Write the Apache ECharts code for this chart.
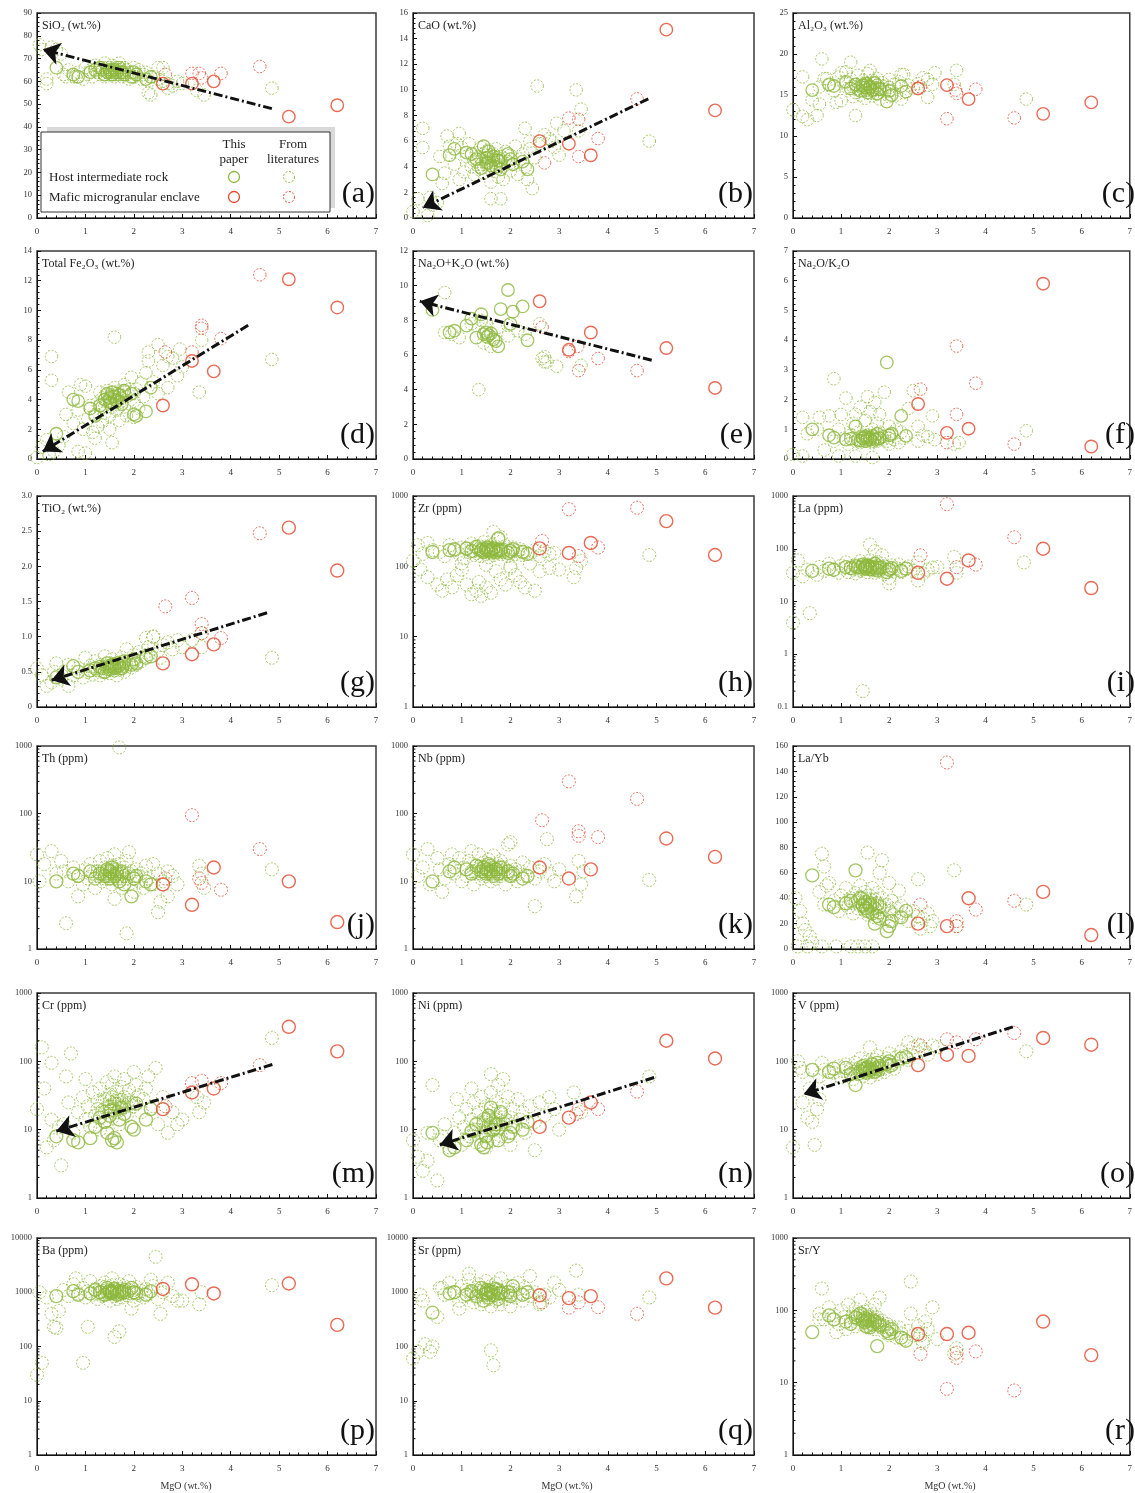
<!DOCTYPE html>
<html>
<head>
<meta charset="utf-8">
<script src="https://cdn.jsdelivr.net/npm/echarts@6/dist/echarts.min.js"></script>
<style>
  html, body { margin: 0; padding: 0; background: #fff; }
  #chart { width: 1135px; height: 1493px; }
</style>
</head>
<body>
<div id="chart"></div>
<script>
// ---------- MgO (wt.%) of the sample groups ----------
const mgoHostThis = [0.4,0.75,0.85,1.1,1.2,1.3,1.4,1.45,1.5,1.52,1.55,1.6,1.65,1.7,1.75,1.8,1.95,2.0,2.05,2.25,2.35];
const mgoLitCore = [0.55,0.65,0.75,0.85,0.95,1.0,1.05,1.1,1.15,1.2,1.25,1.3,
                    1.3,1.35,1.4,1.4,1.45,1.5,1.5,1.55,1.55,1.6,1.6,1.65,
                    1.65,1.7,1.7,1.75,1.75,1.8,1.8,1.85,1.9,1.95,2.0,2.0,
                    2.05,2.1,2.15,2.2,2.25,2.3,2.4,2.5,2.6,2.7,2.8,2.9];
const mgoLitDense = [1.25,1.35,1.4,1.45,1.5,1.55,1.6,1.6,1.65,1.7,1.75,1.8,
                     1.35,1.45,1.5,1.55,1.6,1.65,1.7,1.75,1.8,1.85,1.9,2.0];
const mgoMmeThis = [2.6,3.2,3.65,5.2,6.2];

// ---------- panel titles, letters, y scales ----------
const panelTitles = ['SiO₂ (wt.%)','CaO (wt.%)','Al₂O₃ (wt.%)','Total Fe₂O₃ (wt.%)','Na₂O+K₂O (wt.%)','Na₂O/K₂O',
  'TiO₂ (wt.%)','Zr (ppm)','La (ppm)','Th (ppm)','Nb (ppm)','La/Yb',
  'Cr (ppm)','Ni (ppm)','V (ppm)','Ba (ppm)','Sr (ppm)','Sr/Y'];
const panelLetters = ['(a)','(b)','(c)','(d)','(e)','(f)','(g)','(h)','(i)','(j)','(k)','(l)','(m)','(n)','(o)','(p)','(q)','(r)'];
// [type, min, max, interval]
const yScales = [['value',0,90,10],['value',0,16,2],['value',0,25,5],['value',0,14,2],['value',0,12,2],['value',0,7,1],
  ['value',0,3,0.5],['log',1,1000],['log',0.1,1000],['log',1,1000],['log',1,1000],['value',0,160,20],
  ['log',1,1000],['log',1,1000],['log',1,1000],['log',1,10000],['log',1,10000],['log',1,1000]];
const xTicks = [0,1,2,3,4,5,6,7];
const legendRows = ['Host intermediate rock','Mafic microgranular enclave'];
const legendCols = [['This','paper'],['From','literatures']];

// ---------- (a) SiO2 ----------
const sio2HostThis = [66,63,62,64,65,66,63,64,65,64,63,65,64,66,64,63,62,64,63,61,62];
const sio2LitCore = [63,65,62,64,61,66,63,65,62,67,64,63, 66,65,62,68,64,66,63,65,67,62,64,66, 63,68,65,62,64,66,63,65,61,64,66,62, 63,65,61,63,64,60,62,61,60,59,58,60];
const sio2LitDense = [64,65,63,66,64,65,63,66,64,65,63,64, 66,64,65,63,64,65,63,64,66,63,64,62];
const sio2LitExtra = [[0.05,76],[0.1,74],[0.2,59],[0.3,75],[0.4,74],[0.5,72],[0.2,61],[0.6,62],[0.8,62],[2.3,55],[2.35,54],[2.5,66],[2.7,57],[3.0,59],[3.3,56],[3.45,54],[4.85,57],[2.6,66]];
const sio2MmeThis = [59,59,60,44.5,49.5];
const sio2MmeLit = [[2.65,63],[3.2,63.5],[3.35,63.5],[3.4,61.5],[3.8,63.5],[4.6,66.5]];
const sio2Trend = [[4.85,48],[0.12,74]];

// ---------- (b) CaO ----------
const caoHostThis = [3.4,4.9,5.4,5.1,5.0,4.6,3.9,5.6,4.7,4.3,5.2,4.1,4.8,4.0,4.5,3.8,5.0,4.6,4.2,4.4,3.8];
const caoLitCore = [4.8,3.5,5.6,4.2,3.0,5.5,3.6,4.8,5.8,4.0,3.4,5.1, 4.4,3.8,5.5,4.6,3.5,4.9,4.2,5.3,3.9,4.7,2.8,5.0, 4.3,3.6,5.4,4.5,3.2,4.8,4.1,3.0,5.2,4.4,3.7,4.9, 4.2,5.6,3.4,4.6,5.0,4.0,5.4,4.7,5.8,6.5,6.2,5.5];
const caoLitDense = [4.5,4.8,4.2,5.0,4.4,4.7,4.1,4.9,4.6,4.3,4.8,4.5, 4.0,4.6,5.2,4.3,4.9,4.5,4.2,4.7,4.4,4.0,4.6,4.3];
const caoLitExtra = [[0.0,0.5],[0.1,1.5],[0.2,7.0],[0.2,5.5],[0.3,0.2],[0.35,1.6],[0.4,1.0],[0.5,1.2],[0.6,2.7],[0.7,6.4],[0.95,6.6],[0.9,5.8],[1.6,1.5],[1.8,1.5],[2.3,7.0],[2.45,2.3],[2.55,10.3],[2.35,3.0],[2.95,7.4],[3.0,4.9],[3.35,10.0],[3.45,8.5],[3.4,6.8],[2.85,6.0],[4.85,6.0],[3.1,6.8],[2.4,6.0]];
const caoMmeThis = [6.0,5.8,4.9,14.7,8.4];
const caoMmeLit = [[2.7,4.3],[3.2,7.8],[3.4,7.7],[3.4,4.8],[3.8,6.2],[4.6,9.3]];
const caoTrend = [[4.83,9.3],[0.2,0.8]];

// ---------- (c) Al2O3 ----------
const al2o3HostThis = [15.6,16.3,16.1,16.6,15.8,16.3,15.5,16.2,15.9,16.4,15.3,16.0,15.6,16.5,15.2,15.7,14.2,15.5,15.0,16.1,15.4];
const al2o3LitCore = [16.0,17.0,16.2,15.5,17.2,14.3,16.6,17.8,15.8,16.9,14.8,16.2, 15.3,17.4,16.0,15.0,16.7,15.6,14.6,16.3,17.6,15.2,16.0,14.9, 16.8,15.7,16.4,15.1,17.0,15.9,14.5,16.5,15.4,16.1,14.8,16.9, 15.6,16.3,15.0,16.6,17.5,15.3,16.2,15.8,16.4,17.1,16.9,16.3];
const al2o3LitDense = [16.0,15.7,16.3,15.9,16.2,15.6,16.1,15.8,16.4,15.9,16.2,15.7, 15.8,16.1,15.5,16.3,15.9,16.0,15.6,16.2,15.8,16.1,15.7,15.9];
const al2o3LitExtra = [[0.0,13.2],[0.2,17.2],[0.2,12.4],[0.3,12.0],[0.4,14.4],[0.5,12.5],[0.6,19.4],[0.55,13.9],[0.9,14.1],[1.0,17.7],[1.2,19.0],[1.3,12.5],[1.6,18.0],[2.3,17.5],[2.25,14.5],[2.8,14.7],[2.95,17.7],[3.4,18.0],[3.35,16.3],[4.85,14.5],[0.7,17.0]];
const al2o3MmeThis = [15.8,16.2,14.5,12.7,14.1];
const al2o3MmeLit = [[2.65,16.0],[3.2,12.1],[3.38,15.6],[3.4,15.2],[3.8,15.7],[4.6,12.2]];

// ---------- (d) Total Fe2O3 ----------
const fe2o3HostThis = [1.7,4.0,3.9,3.4,2.9,3.6,4.0,4.4,4.1,3.8,4.5,4.2,3.9,4.3,3.7,4.6,4.4,3.0,2.9,3.2,4.8];
const fe2o3LitCore = [1.5,4.5,2.4,3.3,2.0,4.9,2.7,3.6,1.8,3.0,2.2,4.5, 3.4,2.5,4.0,3.1,4.6,3.7,2.9,4.3,3.5,4.8,4.0,3.3, 4.4,3.8,2.6,4.6,4.1,3.5,5.0,2.9,4.3,5.5,3.9,2.8, 4.7,3.4,5.1,4.2,5.8,6.6,5.2,7.7,6.3,6.9,6.8,5.6];
const fe2o3LitDense = [3.8,4.1,3.6,4.3,3.9,4.2,4.5,3.7,4.0,4.4,4.1,4.6, 3.5,3.9,4.2,3.8,4.4,4.0,4.3,3.9,4.5,4.2,4.7,4.4];
const fe2o3LitExtra = [[0.0,0.1],[0.1,0.8],[0.2,1.3],[0.25,0.3],[0.3,6.9],[0.3,5.3],[0.35,0.5],[0.45,0.9],[0.85,0.5],[1.0,0.4],[1.2,1.4],[1.6,8.2],[1.55,1.1],[1.5,2.0],[2.3,7.2],[2.5,4.4],[2.7,4.8],[2.95,7.4],[3.35,4.5],[3.4,8.0],[3.0,6.2],[4.85,6.7],[0.6,3.0],[0.9,5.0]];
const fe2o3MmeThis = [3.6,6.6,5.9,12.1,10.2];
const fe2o3MmeLit = [[2.65,7.2],[3.2,7.2],[3.4,9.0],[3.4,8.8],[3.8,8.1],[4.6,12.4]];
const fe2o3Trend = [[4.36,9.0],[0.12,0.5]];

// ---------- (e) Na2O+K2O ----------
const alkHostThis = [8.6,7.3,7.4,7.7,8.1,7.0,8.35,7.2,7.3,7.05,7.15,7.25,6.9,6.8,6.5,8.65,9.75,7.8,8.5,8.8,6.85];
const alkLitExtra = [[0.65,9.6],[0.65,7.3],[0.8,7.2],[0.95,7.0],[1.35,4.0],[1.2,7.8],[1.4,8.0],[1.5,7.5],[1.6,6.5],[1.65,7.0],[1.95,7.1],[1.95,7.7],[2.15,7.4],[2.3,7.2],[2.6,7.8],[2.65,5.8],[2.7,5.6],[2.75,5.6],[2.7,5.9],[2.95,5.35],[3.45,5.4],[1.5,7.9],[1.45,6.7],[1.75,7.6]];
const alkMmeThis = [9.1,6.3,7.3,6.4,4.1];
const alkMmeLit = [[2.65,7.6],[3.2,6.2],[3.38,6.5],[3.4,5.1],[3.8,5.8],[4.6,5.1]];
const alkTrend = [[4.9,5.7],[0.14,9.1]];

// ---------- (f) Na2O/K2O ----------
const nakHostThis = [1.0,0.8,0.72,0.65,0.68,1.1,0.62,0.7,0.75,0.6,0.72,0.68,0.78,0.65,0.85,0.7,3.25,0.8,0.85,1.45,0.78];
const nakLitCore = [1.4,0.3,1.45,0.6,1.0,1.5,0.7,2.05,0.5,0.8,1.2,0.6, 1.5,0.9,1.75,0.55,0.7,1.3,0.6,2.1,0.8,1.6,0.65,1.0, 0.55,1.9,0.7,1.2,0.6,0.9,1.5,0.75,2.25,0.6,1.1,0.5, 0.8,0.65,1.0,0.55,0.9,0.7,1.7,2.3,1.1,0.8,0.75,1.45];
const nakLitDense = [0.7,0.65,0.75,0.6,0.7,0.8,0.65,0.72,0.6,0.75,0.68,0.7, 0.62,0.7,0.78,0.66,0.72,0.6,0.74,0.68,0.7,0.64,0.76,0.7];
const nakLitExtra = [[0.0,0.15],[0.2,0.1],[0.2,1.4],[0.3,0.85],[0.5,1.0],[0.85,2.7],[0.95,0.1],[1.3,0.1],[1.65,0.05],[2.95,0.65],[3.35,0.5],[3.45,0.55],[4.85,0.95],[2.6,0.6]];
const nakMmeThis = [1.85,0.88,1.02,5.9,0.42];
const nakMmeLit = [[2.65,2.35],[3.2,0.55],[3.4,3.8],[3.4,1.5],[3.8,2.55],[4.6,0.5]];

// ---------- (g) TiO2 ----------
const tio2HostThis = [0.42,0.58,0.5,0.52,0.55,0.57,0.5,0.62,0.54,0.58,0.6,0.56,0.62,0.59,0.55,0.65,0.6,0.68,0.62,0.7,0.72];
const tio2LitCore = [0.5,0.6,0.45,0.55,0.42,0.7,0.5,0.58,0.46,0.65,0.52,0.6, 0.45,0.55,0.72,0.5,0.58,0.62,0.48,0.55,0.68,0.52,0.6,0.57, 0.45,0.63,0.53,0.7,0.56,0.6,0.5,0.82,0.62,0.56,0.66,0.74, 0.6,0.78,0.65,0.72,0.98,0.85,1.0,0.8,0.88,0.92,0.82,0.95];
const tio2LitDense = [0.52,0.55,0.5,0.57,0.54,0.58,0.52,0.56,0.6,0.55,0.58,0.62, 0.5,0.54,0.57,0.53,0.59,0.56,0.6,0.55,0.62,0.58,0.61,0.64];
const tio2LitExtra = [[0.0,0.55],[0.1,0.45],[0.2,0.3],[0.3,0.35],[0.35,0.5],[0.4,0.62],[0.5,0.4],[0.65,0.3],[2.4,1.0],[2.3,0.75],[3.0,0.85],[3.2,0.95],[3.4,1.05],[3.4,0.85],[4.85,0.7],[2.55,0.7]];
const tio2MmeThis = [0.62,0.75,0.89,2.55,1.94];
const tio2MmeLit = [[2.65,1.43],[3.2,1.55],[3.4,1.18],[3.4,1.05],[3.8,0.98],[4.6,2.47]];
const tio2Trend = [[4.75,1.34],[0.3,0.38]];

// ---------- (h) Zr ----------
const zrHostThis = [160,170,175,180,165,190,170,160,175,185,165,170,180,160,250,170,155,165,175,160,150];
const zrLitCore = [160,140,200,170,150,185,130,175,160,210,145,180, 155,195,165,140,220,170,150,185,135,200,160,175, 145,190,155,240,170,150,180,160,195,140,170,155, 185,150,165,175,145,160,150,170,140,165,150,155];
const zrLitDense = [165,175,160,180,170,185,155,175,165,180,170,160, 175,165,190,170,160,180,170,165,175,160,170,165];
const zrLitExtra = [[0.0,120],[0.1,200],[0.2,150],[0.3,215],[0.15,90],[0.3,70],[0.5,55],[0.6,45],[0.7,65],[0.8,50],[0.9,75],[1.0,90],[1.1,55],[1.2,40],[1.3,45],[1.35,60],[1.4,38],[1.5,50],[1.6,42],[1.7,85],[1.8,65],[1.9,55],[2.0,95],[2.1,75],[2.2,60],[2.3,50],[2.4,110],[2.5,45],[2.6,85],[2.8,95],[3.0,90],[3.35,95],[3.3,70],[3.45,120],[1.65,310],[1.8,260],[4.85,145],[0.4,170],[1.0,110],[1.5,105],[2.0,100]];
const zrMmeThis = [180,155,215,440,145];
const zrMmeLit = [[2.65,230],[3.2,650],[3.4,140],[3.8,185],[4.6,680]];

// ---------- (i) La ----------
const laHostThis = [38,42,40,45,43,47,44,50,46,42,48,41,45,52,39,44,36,40,43,38,42];
const laLitCore = [45,38,52,40,35,48,42,55,36,46,40,50, 34,44,58,38,47,42,52,36,48,45,60,40, 50,44,35,55,42,47,38,52,33,45,40,28, 48,37,43,50,36,42,46,38,55,34,40,44];
const laLitDense = [42,45,40,47,43,46,41,44,48,42,45,43, 46,41,44,48,42,45,43,47,41,44,46,42];
const laLitExtra = [[0.0,4],[0.0,35],[0.1,60],[0.2,30],[0.3,40],[0.35,6],[0.5,32],[1.45,0.2],[1.6,120],[1.7,90],[2.0,22],[3.35,70],[3.4,35],[4.8,55],[3.0,45],[2.6,25],[1.85,75]];
const laMmeThis = [35,27,60,100,18];
const laMmeLit = [[2.65,75],[3.2,700],[3.4,45],[3.8,50],[4.6,165]];

// ---------- (j) Th ----------
const thHostThis = [10,13,12,14,11,13,12,15,11,14,16,12,13,10,14,9,6,11,12,10,9];
const thLitCore = [14,10,16,12,9,15,11,18,13,8,14,20, 12,10,16,13,22,11,14,17,9,13,25,11, 15,18,10,13,8,16,12,20,9,14,11,7, 15,10,13,8,17,11,9,13,10,14,12,9];
const thLitDense = [12,13,11,14,12,15,13,12,14,11,13,12, 14,12,13,11,15,12,14,13,12,11,13,12];
const thLitExtra = [[0.0,25],[0.05,10],[0.15,18],[0.3,28],[0.4,13],[0.5,20],[0.6,2.4],[0.85,6],[1.7,950],[1.85,1.7],[1.9,27],[2.5,3.5],[2.55,5],[2.7,6],[3.35,17],[3.4,13],[3.45,8],[4.85,15],[2.4,18],[1.6,5.5]];
const thMmeThis = [9,4.5,16,10,2.5];
const thMmeLit = [[2.65,11],[3.2,95],[3.35,11],[3.4,9.5],[3.8,7.5],[4.6,30]];

// ---------- (k) Nb ----------
const nbHostThis = [10,14,16,15,13,17,14,16,13,15,18,14,12,15,13,16,14,12,13,11,12];
const nbLitCore = [15,11,18,13,22,10,16,12,20,14,9,17, 13,25,11,15,19,12,16,14,21,10,17,13, 24,15,11,18,14,12,20,16,9,13,17,38, 12,15,10,14,19,12,16,11,14,18,13,10];
const nbLitDense = [14,15,13,16,14,17,13,15,16,14,15,13, 16,14,15,13,17,14,15,16,14,13,15,14];
const nbLitExtra = [[0.0,25],[0.1,12],[0.2,16],[0.3,30],[0.35,9],[0.5,22],[0.6,7],[1.95,35],[2.5,4.3],[2.75,42],[3.35,6],[3.4,20],[3.5,14],[3.45,9],[4.85,10.5],[3.0,15],[0.8,25],[1.2,28]];
const nbMmeThis = [16,11,15,43,23];
const nbMmeLit = [[2.65,80],[3.2,300],[3.4,55],[3.4,47],[3.8,45],[4.6,165]];

// ---------- (l) La/Yb ----------
const laybHostThis = [58,35,33,36,38,62,40,34,37,32,30,35,28,20,26,24,14,18,22,25,30];
const laybLitCore = [45,35,52,38,30,42,36,48,33,40,28,44, 37,32,50,41,35,30,45,38,27,42,34,48, 31,39,25,36,44,29,33,40,24,35,30,22, 38,27,32,25,34,28,22,30,26,24,28,22];
const laybLitDense = [36,38,34,40,35,37,33,39,35,32,36,34, 38,35,33,37,34,36,32,35,33,31,34,30];
const laybLitExtra = [[0.05,40],[0.15,30],[0.2,20],[0.25,15],[0.35,10],[0.4,5],[0.3,2],[0.1,2],[0.6,2],[0.9,2],[1.2,2],[1.35,2],[1.5,2],[1.65,2],[0.6,75],[0.65,65],[0.7,50],[1.55,76],[1.85,70],[1.8,60],[2.0,52],[2.2,46],[2.6,55],[3.35,62],[3.4,18],[2.85,18],[4.85,35],[2.65,16]];
const laybMmeThis = [20,18,40,45,11];
const laybMmeLit = [[2.65,35],[3.2,147],[3.4,22],[3.4,18],[3.8,31],[4.6,38]];

// ---------- (m) Cr ----------
const crHostThis = [8,7,6.5,7.5,11,15,13,9,16,19,7,7.5,6.5,14,21,17,11,10,24,14,20];
const crLitCore = [12,25,9,18,30,14,22,11,35,16,26,10, 40,19,28,13,50,21,33,15,45,24,60,18, 36,27,12,42,20,55,30,16,38,25,70,22, 45,32,18,28,40,60,22,12,30,9,18,12];
const crLitDense = [20,25,18,28,22,30,19,26,24,21,27,23, 18,22,26,20,24,28,22,25,21,23,27,24];
const crLitExtra = [[0.0,20],[0.1,160],[0.15,40],[0.2,5.5],[0.3,95],[0.35,7],[0.5,3],[0.6,60],[0.7,130],[1.0,55],[2.45,80],[3.0,14],[3.35,18],[3.45,25],[4.85,220],[3.3,30],[0.45,11],[0.3,14]];
const crMmeThis = [20,35,40,320,140];
const crMmeLit = [[2.65,22],[3.2,48],[3.4,52],[3.8,48],[4.6,88]];
const crTrend = [[4.86,90],[0.4,9.5]];

// ---------- (n) Ni ----------
const niHostThis = [9,5,5.5,7,9.5,12,6,5.5,8,6.5,16,21,10,12,7,18,8,9,11,10,13];
const niLitCore = [7,12,5.5,9,15,6,11,20,8,14,25,6.5, 10,18,30,8,13,22,5.5,16,9,35,12,19, 7,26,14,10,45,17,8,23,12,30,15,6, 20,11,28,14,18,9,22,13,25,16,30,20];
const niLitDense = [10,13,9,14,11,15,12,10,13,11,14,12, 9,12,14,11,13,10,15,12,11,13,14,12];
const niLitExtra = [[0.0,7],[0.1,4],[0.2,2.5],[0.3,3.5],[0.4,45],[0.5,1.8],[0.6,8],[1.6,65],[1.85,55],[2.5,5],[3.0,10],[3.3,35],[3.45,18],[4.85,60],[0.9,28],[1.2,40],[0.3,9]];
const niMmeThis = [11,15,25,200,110];
const niMmeLit = [[3.35,17],[3.4,20],[3.8,20],[4.6,36]];
const niTrend = [[4.95,58],[0.55,6]];

// ---------- (o) V ----------
const vHostThis = [75,70,78,80,65,45,72,85,78,68,82,75,90,70,95,85,92,100,88,110,115];
const vLitCore = [60,75,52,68,85,58,72,90,62,78,55,95, 70,65,82,110,60,75,88,68,100,78,58,92, 72,105,80,65,120,85,75,98,70,110,88,130, 95,78,115,100,140,120,105,160,135,150,125,170];
const vLitDense = [70,75,68,78,72,80,74,70,77,82,76,79, 66,72,76,70,74,78,72,80,76,82,78,85];
const vLitExtra = [[0.0,5.5],[0.1,100],[0.2,70],[0.2,25],[0.3,15],[0.35,40],[0.4,13],[0.45,6],[0.55,28],[0.6,95],[1.6,160],[2.4,190],[2.6,175],[3.0,160],[4.85,140],[0.15,80],[0.5,20]];
const vMmeThis = [88,125,120,220,175];
const vMmeLit = [[2.65,170],[3.2,210],[3.4,190],[3.8,210],[4.6,260]];
const vTrend = [[4.57,320],[0.22,33]];

// ---------- (p) Ba ----------
const baHostThis = [850,1050,900,950,1100,1000,900,1200,1050,950,1000,1150,900,1050,980,1100,1200,1000,950,900,1050];
const baLitCore = [1100,850,1400,950,1200,800,1050,1600,900,1150,750,1300, 1000,850,1250,1500,950,1100,700,1350,1000,850,1200,1050, 750,1400,900,1150,800,1000,1300,880,1600,950,1100,700, 1250,900,1050,800,1150,950,1300,750,1000,1500,850,700];
const baLitDense = [950,1050,900,1100,1000,1050,950,1000,1100,950,1050,1000, 900,1000,1050,950,1100,1000,950,1050,1000,950,1100,1000];
const baLitExtra = [[0.0,30],[0.1,50],[0.05,1000],[0.2,800],[0.3,400],[0.35,230],[0.4,220],[0.45,450],[0.95,50],[1.05,230],[1.6,150],[1.7,190],[1.95,500],[2.45,4500],[2.55,400],[3.0,700],[3.35,600],[3.4,1000],[4.85,1350],[0.8,1800],[1.55,1800],[2.35,1700]];
const baMmeThis = [1150,1400,950,1450,250];
const baMmeLit = [];

// ---------- (q) Sr ----------
const srHostThis = [420,950,1000,900,1050,850,1200,700,950,1100,800,1000,880,1150,750,950,1000,850,1300,900,1000];
const srLitCore = [1200,900,1500,1000,700,1300,850,1100,1700,950,650,1200, 800,1400,1000,600,1150,900,1600,750,1050,1300,550,950, 1200,700,1450,850,1100,600,1800,1000,750,1300,900,550, 1100,800,1500,950,700,1200,850,1000,650,900,800,1500];
const srLitDense = [950,1050,900,1100,1000,950,1050,900,1000,1100,950,1000, 1050,900,1000,950,1100,1000,900,1050,950,1000,900,1000];
const srLitExtra = [[0.0,60],[0.1,80],[0.15,900],[0.2,700],[0.25,110],[0.35,80],[0.4,100],[0.5,350],[0.6,1200],[0.95,500],[1.15,2200],[1.6,85],[1.65,45],[2.4,2000],[3.35,2500],[3.4,900],[4.85,800],[3.0,1100],[2.6,600]];
const srMmeThis = [880,780,850,1800,520];
const srMmeLit = [[2.65,650],[3.2,520],[3.4,650],[3.8,530],[4.6,400]];

// ---------- (r) Sr/Y ----------
const sryHostThis = [50,85,75,70,65,80,90,72,68,60,75,58,64,70,32,62,52,48,55,42,38];
const sryLitCore = [90,75,110,85,65,100,80,55,120,70,90,60, 105,78,140,65,85,72,95,58,80,100,62,75, 88,55,120,68,80,150,60,72,50,65,55,45, 60,50,42,58,48,40,52,45,60,38,55,110];
const sryLitDense = [80,85,75,88,78,82,72,80,76,70,74,68, 84,78,76,72,70,74,66,68,64,62,60,58];
const sryLitExtra = [[0.6,200],[0.55,75],[2.45,250],[2.45,90],[2.65,45],[2.7,35],[2.75,70],[3.0,40],[3.4,30],[3.35,25],[0.9,50]];
const sryMmeThis = [47,47,49,70,24];
const sryMmeLit = [[2.65,25],[3.2,8.2],[3.4,22],[3.4,26],[3.8,27],[4.6,7.8]];

// ---------- assemble panels ----------
const zip = (xs, ys) => xs.map((x, i) => [x, ys[i]]);
// [hostThis, litCore, litDense, litExtra, mmeThis, mmeLit, trend]
const panelData = [
  [sio2HostThis, sio2LitCore, sio2LitDense, sio2LitExtra, sio2MmeThis, sio2MmeLit, sio2Trend],
  [caoHostThis, caoLitCore, caoLitDense, caoLitExtra, caoMmeThis, caoMmeLit, caoTrend],
  [al2o3HostThis, al2o3LitCore, al2o3LitDense, al2o3LitExtra, al2o3MmeThis, al2o3MmeLit, null],
  [fe2o3HostThis, fe2o3LitCore, fe2o3LitDense, fe2o3LitExtra, fe2o3MmeThis, fe2o3MmeLit, fe2o3Trend],
  [alkHostThis, null, null, alkLitExtra, alkMmeThis, alkMmeLit, alkTrend],
  [nakHostThis, nakLitCore, nakLitDense, nakLitExtra, nakMmeThis, nakMmeLit, null],
  [tio2HostThis, tio2LitCore, tio2LitDense, tio2LitExtra, tio2MmeThis, tio2MmeLit, tio2Trend],
  [zrHostThis, zrLitCore, zrLitDense, zrLitExtra, zrMmeThis, zrMmeLit, null],
  [laHostThis, laLitCore, laLitDense, laLitExtra, laMmeThis, laMmeLit, null],
  [thHostThis, thLitCore, thLitDense, thLitExtra, thMmeThis, thMmeLit, null],
  [nbHostThis, nbLitCore, nbLitDense, nbLitExtra, nbMmeThis, nbMmeLit, null],
  [laybHostThis, laybLitCore, laybLitDense, laybLitExtra, laybMmeThis, laybMmeLit, null],
  [crHostThis, crLitCore, crLitDense, crLitExtra, crMmeThis, crMmeLit, crTrend],
  [niHostThis, niLitCore, niLitDense, niLitExtra, niMmeThis, niMmeLit, niTrend],
  [vHostThis, vLitCore, vLitDense, vLitExtra, vMmeThis, vMmeLit, vTrend],
  [baHostThis, baLitCore, baLitDense, baLitExtra, baMmeThis, baMmeLit, null],
  [srHostThis, srLitCore, srLitDense, srLitExtra, srMmeThis, srMmeLit, null],
  [sryHostThis, sryLitCore, sryLitDense, sryLitExtra, sryMmeThis, sryMmeLit, null]
];

// ---------- layout & style ----------
const GREEN = '#8db83c';
const RED = '#e2452a';
const SERIF = '"Liberation Serif","Times New Roman",serif';
const cols = [{ left: 37, width: 339 }, { left: 413, width: 341 }, { left: 793, width: 343 }];
const rows = [{ top: 13, height: 205 }, { top: 251, height: 208 }, { top: 496, height: 211 },
              { top: 746, height: 203 }, { top: 993, height: 205 }, { top: 1238, height: 217 }];

const grids = [], xAxes = [], yAxes = [], series = [], graphics = [];

// log-axis minor ticks (2..9 within each decade), drawn along the y axis
function logMinorTicks(min, max) {
  const out = [];
  for (let e = Math.round(Math.log10(min)); e < Math.round(Math.log10(max)); e++) {
    for (let m = 2; m <= 9; m++) out.push([0, +(m * Math.pow(10, e)).toPrecision(3)]);
  }
  return out;
}

panelData.forEach((pd, i) => {
  const r = Math.floor(i / 3), c = i % 3;
  const g = { left: cols[c].left, width: cols[c].width, top: rows[r].top, height: rows[r].height };
  grids.push({ ...g, show: true, borderColor: '#3a3a3a', borderWidth: 1.5, backgroundColor: '#fff', containLabel: false });

  xAxes.push({
    gridIndex: i, type: 'value', min: xTicks[0], max: xTicks[xTicks.length - 1], interval: 1,
    axisLine: { show: true, onZero: false, lineStyle: { color: '#111', width: 1 } },
    axisTick: { show: true, inside: true, length: 4, lineStyle: { color: '#111' } },
    minorTick: { show: true, splitNumber: 5, length: 2.5, lineStyle: { color: '#111' } },
    splitLine: { show: false },
    axisLabel: { fontSize: 9, color: '#333', margin: 9, fontFamily: SERIF }
  });

  const ys = yScales[i];
  const yAx = {
    gridIndex: i, type: ys[0], min: ys[1], max: ys[2],
    axisLine: { show: true, onZero: false, lineStyle: { color: '#111', width: 1 } },
    axisTick: { show: true, inside: true, length: 4, lineStyle: { color: '#111' } },
    splitLine: { show: false },
    axisLabel: { fontSize: 8.5, color: '#333', margin: 5, fontFamily: SERIF }
  };
  if (ys[0] === 'value') {
    yAx.interval = ys[3];
    yAx.minorTick = { show: true, splitNumber: 5, length: 2.5, lineStyle: { color: '#111' } };
    if (ys[3] === 0.5) yAx.axisLabel.formatter = v => (v === 0 ? '0' : v.toFixed(1));
  } else {
    yAx.logBase = 10;
    yAx.axisLabel.formatter = v => String(+v.toPrecision(3));
  }
  yAxes.push(yAx);

  if (ys[0] === 'log') {
    series.push({
      type: 'custom', xAxisIndex: i, yAxisIndex: i, silent: true, clip: false, z: 3,
      data: logMinorTicks(ys[1], ys[2]),
      renderItem: (params, api) => {
        const p = api.coord([api.value(0), api.value(1)]);
        return { type: 'line', shape: { x1: p[0], y1: p[1], x2: p[0] + 2.5, y2: p[1] },
                 style: { stroke: '#111', lineWidth: 1 } };
      }
    });
  }

  const size = r < 2 ? 12.5 : 13;
  const [hostThis, litCore, litDense, litExtra, mmeThis, mmeLit, trend] = pd;
  const litPts = (litCore ? zip(mgoLitCore, litCore) : [])
    .concat(litDense ? zip(mgoLitDense, litDense) : [])
    .concat(litExtra);
  const base = { type: 'scatter', xAxisIndex: i, yAxisIndex: i, symbol: 'circle', symbolSize: size, silent: true };

  series.push({ ...base, name: 'Host intermediate rock (literatures)', data: litPts,
    itemStyle: { color: 'rgba(0,0,0,0)', borderColor: GREEN, borderWidth: 1, borderType: [2, 1.6] } });
  series.push({ ...base, name: 'Host intermediate rock (this paper)', data: zip(mgoHostThis, hostThis),
    itemStyle: { color: 'rgba(0,0,0,0)', borderColor: GREEN, borderWidth: 1.3 } });
  series.push({ ...base, name: 'Mafic microgranular enclave (literatures)', data: mmeLit,
    itemStyle: { color: 'rgba(0,0,0,0)', borderColor: RED, borderWidth: 1, borderType: [2, 1.6] } });
  series.push({ ...base, name: 'Mafic microgranular enclave (this paper)', data: zip(mgoMmeThis, mmeThis),
    itemStyle: { color: 'rgba(0,0,0,0)', borderColor: RED, borderWidth: 1.4 } });

  if (trend) {
    series.push({
      type: 'scatter', xAxisIndex: i, yAxisIndex: i, data: [], silent: true, z: 10,
      markLine: {
        silent: true, animation: false,
        symbol: ['none', 'arrow'], symbolSize: 17,
        label: { show: false },
        lineStyle: { color: '#111', width: 3, type: [9, 3, 2, 3] },
        emphasis: { disabled: true },
        data: [[{ coord: trend[0] }, { coord: trend[1] }]]
      }
    });
  }

  // panel title (top-left) and letter (bottom-right)
  graphics.push({ type: 'text', x: g.left + 5, y: g.top + 13, z: 50,
    style: { text: panelTitles[i], font: '12px ' + SERIF, fill: '#222', align: 'left', verticalAlign: 'middle' } });
  graphics.push({ type: 'text', x: g.left + g.width - 1, y: g.top + g.height - 24, z: 50,
    style: { text: panelLetters[i], font: '30px ' + SERIF, fill: '#111', align: 'right', verticalAlign: 'middle' } });
});

// x-axis name under the bottom row
[186, 567, 950].forEach(cx => {
  graphics.push({ type: 'text', x: cx, y: 1486, z: 50,
    style: { text: 'MgO (wt.%)', font: '10px ' + SERIF, fill: '#333', align: 'center', verticalAlign: 'middle' } });
});

// legend box inside panel (a)
graphics.push({ type: 'rect', z: 40, shape: { x: 47, y: 127, width: 288, height: 81 }, style: { fill: '#d9d9d9' } });
graphics.push({ type: 'rect', z: 41, shape: { x: 41, y: 132, width: 289, height: 80 }, style: { fill: '#fff', stroke: '#333', lineWidth: 1 } });
const legColX = [234, 293];
legendCols.forEach((lines, k) => {
  graphics.push({ type: 'text', x: legColX[k], y: 145, z: 42,
    style: { text: lines[0], font: '13px ' + SERIF, fill: '#222', align: 'center', verticalAlign: 'middle' } });
  graphics.push({ type: 'text', x: legColX[k], y: 160, z: 42,
    style: { text: lines[1], font: '13px ' + SERIF, fill: '#222', align: 'center', verticalAlign: 'middle' } });
});
legendRows.forEach((label, k) => {
  const y = 178 + k * 20;
  const col = k === 0 ? GREEN : RED;
  graphics.push({ type: 'text', x: 49, y: y, z: 42,
    style: { text: label, font: '13px ' + SERIF, fill: '#222', align: 'left', verticalAlign: 'middle' } });
  graphics.push({ type: 'circle', z: 42, shape: { cx: 234, cy: y - 1, r: 5.5 },
    style: { fill: 'none', stroke: col, lineWidth: 1.3 } });
  graphics.push({ type: 'circle', z: 42, shape: { cx: 289, cy: y - 1, r: 5.5 },
    style: { fill: 'none', stroke: col, lineWidth: 1, lineDash: [2, 1.6] } });
});

const chart = echarts.init(document.getElementById('chart'), null, { renderer: 'canvas' });
chart.setOption({
  animation: false,
  backgroundColor: '#fff',
  grid: grids,
  xAxis: xAxes,
  yAxis: yAxes,
  series: series,
  graphic: graphics
});
</script>
</body>
</html>
